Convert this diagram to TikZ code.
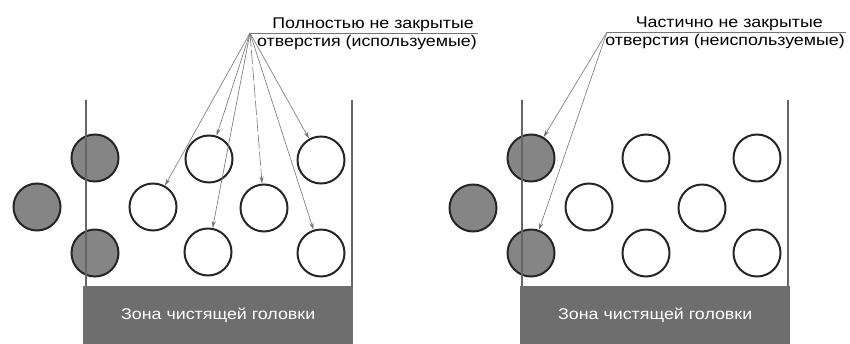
\documentclass[tikz,border=0pt]{standalone}
\usepackage{fontspec}
\setmainfont{Liberation Sans}[FakeStretch=1.15]
\usepackage{tikz}
\usetikzlibrary{positioning,arrows.meta}
\tikzset{>={Stealth[length=7pt,width=4pt]}}

\begin{document}
\begin{tikzpicture}[x=1pt, y={(0pt,-1pt)},
hole/.style={circle, draw=black!85, line width=2pt, fill=white, minimum size=47pt, inner sep=0pt},
blocked/.style={hole, fill=black!48},
wall/.style={draw=black!60, line width=1.6pt},
headzone/.style={rectangle, fill=black!57, text=white, minimum width=270pt, minimum height=58pt, anchor=north west, inner sep=0pt},
leader/.style={draw=black!55, line width=0.6pt},
every node/.style={font=\fontsize{15.5}{18}\selectfont}
]
\useasboundingbox (0,0) rectangle (850,343);

% left panel
\node (zoneA) [headzone] at (83,286) {Зона чистящей головки};
\node (blockedA1) [blocked] at (95,158) {};
\node (blockedA2) [blocked] at (37,207) {};
\node (blockedA3) [blocked] at (95,253) {};
\node (holeA1) [hole] at (153,207) {};
\node (holeA2) [hole] at (209,159) {};
\node (holeA3) [hole] at (208,252) {};
\node (holeA4) [hole] at (264,208) {};
\node (holeA5) [hole] at (321,160) {};
\node (holeA6) [hole] at (321,253) {};
\draw [wall] (86,100) -- (zoneA.north west -| 86,0);
\draw [wall] (352,100) -- (zoneA.north west -| 352,0);

\coordinate (apexA) at (250,33);
\coordinate (endA) at (478,33);
\node (textA1) [above left=0pt and 3pt of endA, inner sep=1pt] {Полностью не закрытые};
\node (textA2) [below left=1pt and 0pt of endA, inner sep=1pt] {отверстия (используемые)};
\draw [leader] (apexA) -- (endA);
\draw [leader, ->] (apexA) -- (holeA1);
\draw [leader, ->] (apexA) -- (holeA2);
\draw [leader, ->] (apexA) -- (holeA3);
\draw [leader, ->, dash pattern=on 14pt off 3pt] (apexA) -- (holeA4);
\draw [leader, ->] (apexA) -- (holeA5);
\draw [leader, ->] (apexA) -- (holeA6);

% right panel
\node (zoneB) [headzone] at (520,286) {Зона чистящей головки};
\node (blockedB1) [blocked] at (531,158) {};
\node (blockedB2) [blocked] at (473,208) {};
\node (blockedB3) [blocked] at (531,253) {};
\node (holeB1) [hole] at (589,207) {};
\node (holeB2) [hole] at (646,158) {};
\node (holeB3) [hole] at (646,253) {};
\node (holeB4) [hole] at (702,208) {};
\node (holeB5) [hole] at (757,158) {};
\node (holeB6) [hole] at (757,253) {};
\draw [wall] (522,100) -- (zoneB.north west -| 522,0);
\draw [wall] (788,100) -- (zoneB.north west -| 788,0);

\coordinate (apexB) at (607,32);
\coordinate (endB) at (846,32);
\node (textB1) [above left=0pt and 22pt of endB, inner sep=1pt] {Частично не закрытые};
\node (textB2) [below left=1pt and 0pt of endB, inner sep=1pt] {отверстия (неиспользуемые)};
\draw [leader] (apexB) -- (endB);
\draw [leader, ->] (apexB) -- (blockedB1);
\draw [leader, ->] (apexB) -- (blockedB3);
\end{tikzpicture}
\end{document}
